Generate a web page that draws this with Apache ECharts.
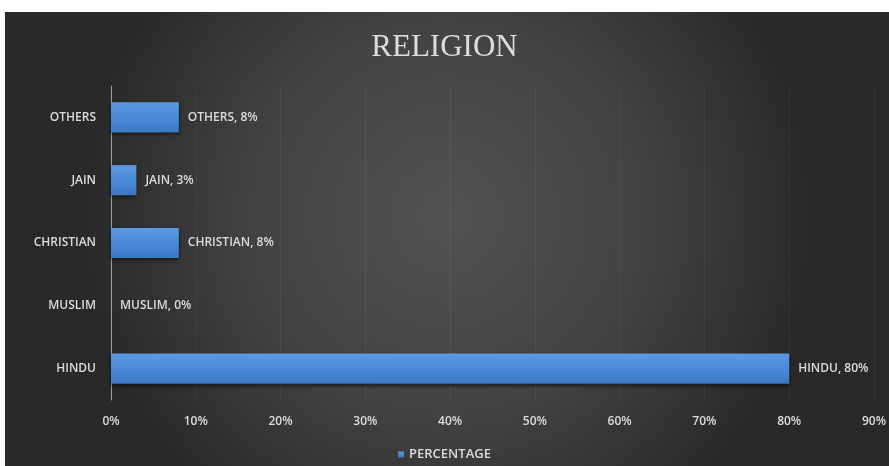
<!DOCTYPE html>
<html>
<head>
<meta charset="utf-8">
<style>
  html, body { margin: 0; padding: 0; background: #ffffff; }
  #chart { width: 889px; height: 466px; }
</style>
<script src="https://cdn.jsdelivr.net/npm/echarts@6/dist/echarts.min.js"></script>
</head>
<body>
<div id="chart"></div>
<script>
// Share of respondents by religion (percent)
const categories = ['HINDU', 'MUSLIM', 'CHRISTIAN', 'JAIN', 'OTHERS'];
const percentage = [80, 0, 8, 3, 8];
const tickLabels = ['0%', '10%', '20%', '30%', '40%', '50%', '60%', '70%', '80%', '90%'];

const labelFont = '"Open Sans", "DejaVu Sans Condensed", sans-serif';
const textColor = '#dcdcdc';

const chart = echarts.init(document.getElementById('chart'), null, { renderer: 'canvas' });

chart.setOption({
  backgroundColor: '#ffffff',
  animation: false,
  graphic: [{
    type: 'rect',
    left: 5, top: 12,
    shape: { width: 884, height: 454 },
    z: -10,
    silent: true,
    style: {
      fill: {
        type: 'radial', x: 0.5, y: 0.45, r: 0.8,
        colorStops: [
          { offset: 0, color: '#525252' },
          { offset: 0.55, color: '#424242' },
          { offset: 1, color: '#292929' }
        ]
      }
    }
  }],
  title: {
    text: 'RELIGION',
    left: 'center',
    top: 27,
    textStyle: {
      fontFamily: '"Liberation Serif", "DejaVu Serif", serif',
      fontWeight: 'normal',
      fontSize: 31,
      color: textColor
    }
  },
  legend: {
    data: ['PERCENTAGE'],
    bottom: 0,
    left: 'center',
    itemWidth: 6,
    itemHeight: 6,
    itemGap: 4,
    icon: 'rect',
    textStyle: { color: textColor, fontFamily: labelFont, fontSize: 13, fontWeight: 600 }
  },
  grid: {
    left: 111,
    right: 10,
    top: 86,
    bottom: 66,
    containLabel: false
  },
  xAxis: {
    type: 'value',
    min: 0,
    max: 90,
    interval: 10,
    axisLine: { show: false },
    axisTick: { show: false },
    splitLine: { show: true, lineStyle: { color: 'rgba(255,255,255,0.05)', width: 1 } },
    axisLabel: {
      color: textColor,
      fontFamily: labelFont,
      fontSize: 12,
      fontWeight: 600,
      margin: 16,
      formatter: function (v) { return tickLabels[Math.round(v / 10)]; }
    }
  },
  yAxis: {
    type: 'category',
    data: categories,
    axisLine: { show: true, lineStyle: { color: '#a0a0a0', width: 1 } },
    axisTick: { show: false },
    axisLabel: {
      color: textColor,
      fontFamily: labelFont,
      fontSize: 12,
      fontWeight: 600,
      margin: 15
    }
  },
  series: [{
    name: 'PERCENTAGE',
    type: 'bar',
    data: percentage,
    barWidth: '48%',
    itemStyle: {
      color: {
        type: 'linear', x: 0, y: 0, x2: 0, y2: 1,
        colorStops: [
          { offset: 0, color: '#5a9be0' },
          { offset: 0.5, color: '#4a8ad6' },
          { offset: 1, color: '#3a78c4' }
        ]
      },
      shadowColor: 'rgba(0,0,0,0.6)',
      shadowBlur: 4,
      shadowOffsetY: 2
    },
    label: {
      show: true,
      position: 'right',
      distance: 9,
      color: textColor,
      fontFamily: labelFont,
      fontSize: 12,
      fontWeight: 600,
      formatter: function (p) { return p.name + ', ' + p.value + '%'; }
    }
  }]
});
</script>
</body>
</html>
